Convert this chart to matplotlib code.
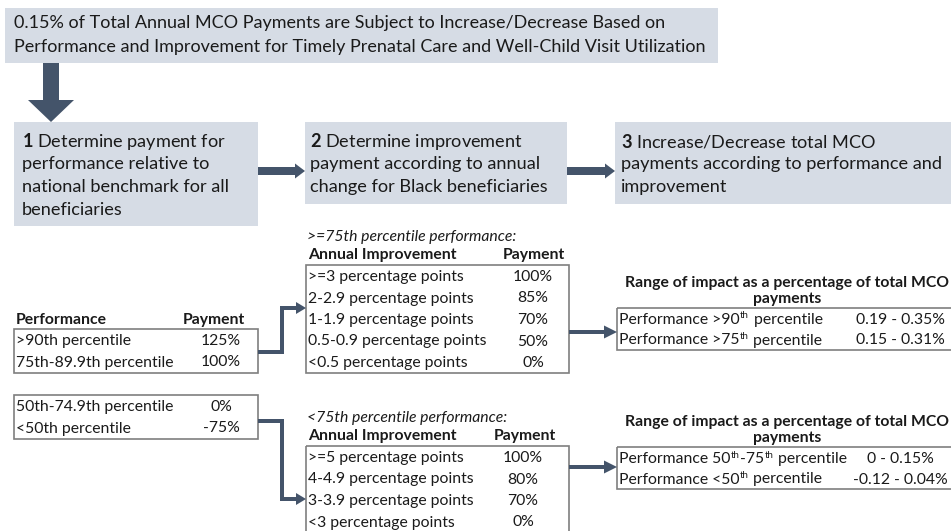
import matplotlib
matplotlib.use('Agg')
import matplotlib.pyplot as plt
from matplotlib.patches import Rectangle, Polygon

FAMILY = 'Lato'
plt.rcParams['font.family'] = [FAMILY, 'DejaVu Sans']
plt.rcParams['mathtext.fontset'] = 'custom'
plt.rcParams['mathtext.rm'] = FAMILY
plt.rcParams['mathtext.bf'] = FAMILY + ':bold'
plt.rcParams['mathtext.it'] = FAMILY + ':italic'

# ---------------- data / texts ----------------
banner_lines = ['0.15% of Total Annual MCO Payments are Subject to Increase/Decrease Based on',
                'Performance and Improvement for Timely Prenatal Care and Well-Child Visit Utilization']
step1_lines = [r'$\mathbf{1}$ Determine payment for', 'performance relative to',
               'national benchmark for all', 'beneficiaries']
step2_lines = [r'$\mathbf{2}$ Determine improvement', 'payment according to annual',
               'change for Black beneficiaries']
step3_lines = [r'$\mathbf{3}$ Increase/Decrease total MCO', 'payments according to performance and',
               'improvement']

perf_headers = ['Performance', 'Payment']
perf_top_labels = ['>90th percentile', '75th-89.9th percentile']
perf_top_payments = ['125%', '100%']
perf_bottom_labels = ['50th-74.9th percentile', '<50th percentile']
perf_bottom_payments = ['0%', '-75%']

imp_high_title = '>=75th percentile performance:'
imp_low_title = '<75th percentile performance:'
imp_headers = ['Annual Improvement', 'Payment']
imp_high_labels = ['>=3 percentage points', '2-2.9 percentage points', '1-1.9 percentage points',
                   '0.5-0.9 percentage points', '<0.5 percentage points']
imp_high_payments = ['100%', '85%', '70%', '50%', '0%']
imp_low_labels = ['>=5 percentage points', '4-4.9 percentage points', '3-3.9 percentage points',
                  '<3 percentage points']
imp_low_payments = ['100%', '80%', '70%', '0%']

impact_title = ['Range of impact as a percentage of total MCO', 'payments']
# '^th' marks a superscript "th"
impact_high_labels = ['Performance >90^th percentile', 'Performance >75^th percentile']
impact_high_ranges = ['0.19 - 0.35%', '0.15 - 0.31%']
impact_low_labels = ['Performance 50^th-75^th percentile', 'Performance <50^th percentile']
impact_low_ranges = ['0 - 0.15%', '-0.12 - 0.04%']

# ---------------- styles ----------------
BOX = '#D6DCE5'
ARROW = '#44546A'
BORDER = '#7F7F7F'
TXT = '#1A1A1A'

fig = plt.figure(figsize=(9.51, 5.31), dpi=100)
ax = fig.add_axes([0, 0, 1, 1])
ax.set_xlim(0, 951)
ax.set_ylim(531, 0)
ax.axis('off')
renderer = fig.canvas.get_renderer()


def fit_size(s, target, **kw):
    t = ax.text(0, 0, s, fontsize=10, **kw)
    w = t.get_window_extent(renderer).width
    t.remove()
    return 10 * target / w


BANNER_FS = fit_size(banner_lines[1], 691)
STEP_FS = fit_size(step3_lines[1], 322)
TAB_FS = fit_size(imp_high_labels[3], 179)


def txt(x, y, s, fs, ha='left', **kw):
    return ax.text(x, y, s, fontsize=fs, ha=ha, va='center', color=TXT, **kw)


def sup_text(x, y, s, fs):
    """Left-aligned text where each '^th' becomes a raised small 'th'."""
    pieces = s.split('^th')
    cur = x
    for i, p in enumerate(pieces):
        if p:
            t = txt(cur, y, p, fs)
            cur = t.get_window_extent(renderer).x1
        if i < len(pieces) - 1:
            t = ax.text(cur + 0.5, y - 4, 'th', fontsize=fs * 0.62, ha='left', va='center', color=TXT)
            cur = t.get_window_extent(renderer).x1 + 0.5


def rect(x0, y0, x1, y1, fill=None, edge=None, lw=1.2):
    ax.add_patch(Rectangle((x0, y0), x1 - x0, y1 - y0,
                           facecolor=fill if fill else 'none',
                           edgecolor=edge if edge else 'none', linewidth=lw, clip_on=True))


def right_arrow(x0, xtip, cy, shaft, head_len, head_h):
    xh = xtip - head_len
    pts = [(x0, cy - shaft / 2), (xh, cy - shaft / 2), (xh, cy - head_h / 2), (xtip, cy),
           (xh, cy + head_h / 2), (xh, cy + shaft / 2), (x0, cy + shaft / 2)]
    ax.add_patch(Polygon(pts, closed=True, facecolor=ARROW, edgecolor='none'))


def down_arrow(cx, y0, ytip, shaft, head_len, head_w):
    yh = ytip - head_len
    pts = [(cx - shaft / 2, y0), (cx + shaft / 2, y0), (cx + shaft / 2, yh), (cx + head_w / 2, yh),
           (cx, ytip), (cx - head_w / 2, yh), (cx - shaft / 2, yh)]
    ax.add_patch(Polygon(pts, closed=True, facecolor=ARROW, edgecolor='none'))


def elbow(points, head_len=10, head_h=12, lw_px=4):
    xs = [p[0] for p in points]
    ys = [p[1] for p in points]
    xs[-1] -= head_len - 1
    ax.plot(xs, ys, color=ARROW, lw=lw_px * 0.72, solid_capstyle='butt', solid_joinstyle='miter')
    xt, yt = points[-1]
    xh = xt - head_len
    ax.add_patch(Polygon([(xh, yt - head_h / 2), (xt, yt), (xh, yt + head_h / 2)],
                         closed=True, facecolor=ARROW, edgecolor='none'))


# ---------------- banner ----------------
rect(5, 8, 718, 63, fill=BOX)
for i, s in enumerate(banner_lines):
    txt(14, 23 + i * 24, s, BANNER_FS)
down_arrow(51, 63, 122, 16, 22, 46)

# ---------------- step boxes ----------------
rect(14, 122, 258, 226, fill=BOX)
rect(305, 122, 567, 204, fill=BOX)
rect(615, 122, 965, 204, fill=BOX)
for i, s in enumerate(step1_lines):
    txt(22, 141 + i * 23, s, STEP_FS)
for i, s in enumerate(step2_lines):
    txt(310, 141 + i * 23, s, STEP_FS)
for i, s in enumerate(step3_lines):
    txt(621, 141 + i * 23, s, STEP_FS)
right_arrow(258, 305, 171, 8, 10, 15)
right_arrow(567, 615, 171, 8, 10, 15)

# ---------------- performance tables ----------------
txt(16, 320, perf_headers[0], TAB_FS, fontweight='bold')
txt(245, 320, perf_headers[1], TAB_FS, ha='right', fontweight='bold')
rect(14, 329, 258, 373, edge=BORDER)
for i, (l, p) in enumerate(zip(perf_top_labels, perf_top_payments)):
    txt(16, 341 + i * 21.5, l, TAB_FS)
    txt(221, 341 + i * 21.5, p, TAB_FS, ha='center')
rect(14, 395, 258, 439, edge=BORDER)
for i, (l, p) in enumerate(zip(perf_bottom_labels, perf_bottom_payments)):
    txt(16, 407 + i * 21.5, l, TAB_FS)
    txt(221, 407 + i * 21.5, p, TAB_FS, ha='center')

# ---------------- improvement tables ----------------
txt(307, 237, imp_high_title, TAB_FS, fontstyle='italic')
txt(308, 255, imp_headers[0], TAB_FS, fontweight='bold')
txt(534, 255, imp_headers[1], TAB_FS, ha='center', fontweight='bold')
rect(306, 265, 569, 373, edge=BORDER)
for i, (l, p) in enumerate(zip(imp_high_labels, imp_high_payments)):
    txt(308, 277 + i * 21.5, l, TAB_FS)
    txt(533, 277 + i * 21.5, p, TAB_FS, ha='center')

txt(307, 418, imp_low_title, TAB_FS, fontstyle='italic')
txt(308, 436, imp_headers[0], TAB_FS, fontweight='bold')
txt(525, 436, imp_headers[1], TAB_FS, ha='center', fontweight='bold')
rect(306, 446, 569, 560, edge=BORDER)
for i, (l, p) in enumerate(zip(imp_low_labels, imp_low_payments)):
    txt(308, 458 + i * 21.5, l, TAB_FS)
    txt(523, 458 + i * 21.5, p, TAB_FS, ha='center')

# ---------------- impact tables ----------------
for y0, labels, ranges in [(308, impact_high_labels, impact_high_ranges),
                           (447, impact_low_labels, impact_low_ranges)]:
    txt(787, y0 - 25, impact_title[0], TAB_FS, ha='center', fontweight='bold')
    txt(787, y0 - 9, impact_title[1], TAB_FS, ha='center', fontweight='bold')
    rect(617, y0, 965, y0 + 42, edge=BORDER)
    for i, (l, r) in enumerate(zip(labels, ranges)):
        sup_text(619, y0 + 12 + i * 20.5, l, TAB_FS)
        txt(900, y0 + 12 + i * 20.5, r, TAB_FS, ha='center')

# ---------------- connectors ----------------
elbow([(258, 352), (282, 352), (282, 308), (306, 308)])
elbow([(258, 421), (282, 421), (282, 499), (306, 499)])
elbow([(569, 332), (617, 332)], head_len=13, head_h=13)
elbow([(569, 467), (617, 467)], head_len=13, head_h=13)

fig.savefig('out.png', dpi=100)
